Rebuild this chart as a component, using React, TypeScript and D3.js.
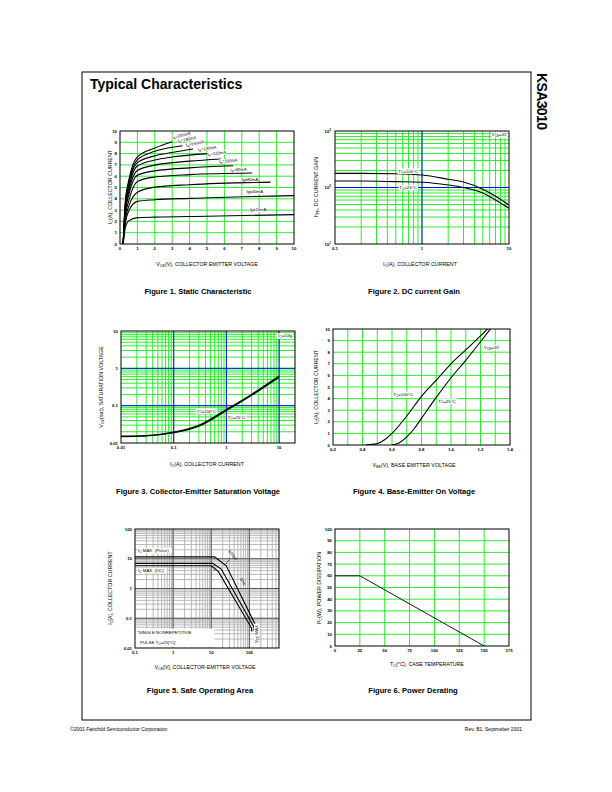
import React from 'react';
import * as d3 from 'd3';

const FONT = "'Liberation Sans', Arial, Helvetica, sans-serif";
const GREEN = '#14ec14';
const BLUE = '#0c0cff';
const GRAY_MINOR = '#b0b0b0';
const GRAY_MAJOR = '#5a5a5a';

// ---- Figure 1: static characteristic (VCE [V], IC [A]) per base current
const ibText = ['200', '180', '160', '140', '120', '100', '60', '80', '40', '20']; // as printed, top to bottom
const ib200 = [[0.18, 0], [0.3, 3.7], [0.5, 5.6], [1, 7.7], [2, 8.5], [3.0, 9.05]];
const ib180 = [[0.18, 0], [0.3, 3.5], [0.5, 5.4], [1, 7.45], [2, 8.2], [3.6, 8.7]];
const ib160 = [[0.18, 0], [0.3, 3.3], [0.5, 5.2], [1, 7.2], [2, 7.8], [3, 8.1], [4.2, 8.4]];
const ib140 = [[0.18, 0], [0.3, 3.1], [0.5, 4.9], [1, 6.9], [2, 7.43], [3, 7.7], [5.05, 8.0]];
const ib120 = [[0.18, 0], [0.3, 2.9], [0.5, 4.6], [1, 6.5], [2, 6.98], [4, 7.33], [5.8, 7.52]];
const ib100 = [[0.18, 0], [0.3, 2.7], [0.5, 4.3], [1, 6.08], [2, 6.47], [4, 6.74], [6.5, 6.92]];
const ib80 = [[0.18, 0], [0.3, 2.4], [0.5, 3.8], [1, 5.54], [2, 5.93], [4, 6.14], [7.6, 6.28]];
const ib60 = [[0.18, 0], [0.3, 2.1], [0.5, 3.3], [1, 4.58], [2, 5.03], [4, 5.25], [8.65, 5.48]];
const ib40 = [[0.18, 0], [0.3, 1.8], [0.5, 2.9], [1, 3.77], [2, 3.92], [4, 4.04], [10, 4.28]];
const ib20 = [[0.18, 0], [0.3, 1.4], [0.5, 2.05], [1, 2.33], [2, 2.38], [5, 2.46], [10, 2.6]];
const fig1Curves = [ib200, ib180, ib160, ib140, ib120, ib100, ib80, ib60, ib40, ib20];
// label anchor (VCE, IC, rotation)
const fig1LabelAt = [[3.03, 9.3, -14], [3.35, 8.98, -12], [3.8, 8.62, -11], [4.5, 8.2, -9], [5.05, 7.82, -7],
  [5.7, 7.16, -5], [6.35, 6.42, -3], [7.0, 5.55, 0], [7.28, 4.5, 0], [7.47, 2.9, 0]];
const linTicks10 = [0, 1, 2, 3, 4, 5, 6, 7, 8, 9, 10];

// ---- Figure 2: DC current gain
const hfeIc = [0.1, 0.2, 0.5, 1, 2, 3, 5, 7, 10];
const hfeT100 = [178, 178, 175, 166, 140, 125, 93, 70, 49];
const hfeT25 = [130, 130, 127, 124, 111, 100, 80, 60, 43];

// ---- Figure 3: saturation voltage
const satIc = [0.01, 0.03, 0.1, 0.3, 1, 3, 10];
const satT100 = [0.0152, 0.0158, 0.0195, 0.030, 0.079, 0.2, 0.62];
const satT25 = [0.0148, 0.0154, 0.0188, 0.028, 0.074, 0.19, 0.58];

// ---- Figure 4: base-emitter on voltage (VBE, IC)
const vbeT100 = [[0.42, 0], [0.5, 0.12], [0.55, 0.45], [0.6, 1.0], [0.7, 2.5], [0.8, 4.2], [0.9, 5.6], [1.0, 7.0], [1.1, 8.2], [1.2, 9.4], [1.25, 10.05]];
const vbeT25 = [[0.6, 0], [0.65, 0.2], [0.7, 0.7], [0.75, 1.4], [0.8, 2.3], [0.9, 4.1], [1.0, 5.8], [1.1, 7.3], [1.2, 8.9], [1.27, 10.05]];
const fig4XTicks = [0.2, 0.4, 0.6, 0.8, 1.0, 1.2, 1.4];

// ---- Figure 5: safe operating area (VCE, IC)
const soaPulse = [[0.1, 11.6], [12.2, 11.6], [24.8, 5.8], [150, 0.054], [150, 0.04]];
const soa1ms = [[0.1, 7.0], [11, 7.0], [18.3, 4.5], [133, 0.05], [133, 0.038]];
const soaDC = [[0.1, 5.85], [10, 5.85], [15.6, 3.6], [115, 0.046], [115, 0.036]];

// ---- Figure 6: power derating (TC, PC)
const derating = [[0, 60], [25, 60], [150, 0]];
const fig6XTicks = [0, 25, 50, 75, 100, 125, 150, 175];
const fig6YTicks = [0, 10, 20, 30, 40, 50, 60, 70, 80, 90, 100];

const logLines = (lo: number, hi: number) => {
  const out: number[] = [];
  for (let e = Math.floor(Math.log10(lo)); e <= Math.ceil(Math.log10(hi)); e++) {
    for (let k = 1; k < 10; k++) {
      const v = k * Math.pow(10, e);
      if (v > lo * 1.001 && v < hi * 0.999) out.push(v);
    }
  }
  return out;
};
const decadesIn = (lo: number, hi: number) => logLines(lo, hi).filter(v => Math.abs(Math.log10(v) - Math.round(Math.log10(v))) < 1e-9);
const zip = (xs: number[], ys: number[]) => xs.map((v, i) => [v, ys[i]]);

const Sub = ({ a, s, b }: { a: string; s: string; b?: string }) => (
  <>
    {a}
    <tspan dy={0.9} fontSize="0.72em">{s}</tspan>
    <tspan dy={-0.9}>{b ?? ''}</tspan>
  </>
);

type Tick = [number, React.ReactNode];

function Plot(props: {
  id: string; x: any; y: any; vLines: number[]; hLines: number[]; color: string;
  vMajor?: number[]; hMajor?: number[]; majorColor?: string;
  xTicks: Tick[]; yTicks: Tick[]; children?: React.ReactNode;
}) {
  const { id, x, y, color } = props;
  const [x0, x1] = x.range();
  const [yb, yt] = y.range();
  return (
    <g>
      <defs>
        <clipPath id={id}><rect x={x0} y={yt} width={x1 - x0} height={yb - yt} /></clipPath>
      </defs>
      <rect x={x0} y={yt} width={x1 - x0} height={yb - yt} fill="white" />
      {props.vLines.map(v => <line key={'v' + v} x1={x(v)} x2={x(v)} y1={yt} y2={yb} stroke={color} strokeWidth={0.9} />)}
      {props.hLines.map(v => <line key={'h' + v} x1={x0} x2={x1} y1={y(v)} y2={y(v)} stroke={color} strokeWidth={0.9} />)}
      {(props.vMajor || []).map(v => <line key={'V' + v} x1={x(v)} x2={x(v)} y1={yt} y2={yb} stroke={props.majorColor} strokeWidth={1} />)}
      {(props.hMajor || []).map(v => <line key={'H' + v} x1={x0} x2={x1} y1={y(v)} y2={y(v)} stroke={props.majorColor} strokeWidth={1} />)}
      <g clipPath={`url(#${id})`}>{props.children}</g>
      <rect x={x0} y={yt} width={x1 - x0} height={yb - yt} fill="none" stroke="black" strokeWidth={1} />
      {props.xTicks.map(([v, l], i) => (
        <text key={'xt' + i} x={x(v)} y={yb + 6} textAnchor="middle" fontSize={4.3} fontWeight="bold">{l}</text>
      ))}
      {props.yTicks.map(([v, l], i) => (
        <text key={'yt' + i} x={x0 - 3} y={y(v) + 1.5} textAnchor="end" fontSize={4.3} fontWeight="bold">{l}</text>
      ))}
    </g>
  );
}

const Boxed = ({ x, y, w, anchor = 'start', children }: { x: number; y: number; w: number; anchor?: string; children: React.ReactNode }) => {
  const left = anchor === 'end' ? x - w : x;
  return (
    <g>
      <rect x={left - 0.8} y={y - 4.2} width={w + 1.6} height={5.6} fill="white" />
      <text x={x} y={y} fontSize={4.4} textAnchor={anchor}>{children}</text>
    </g>
  );
};

const AxisTitles = ({ xt, xx, xy, yt, yx, yy }: any) => (
  <g fontSize={5.3}>
    <text x={xx} y={xy} textAnchor="middle">{xt}</text>
    <text transform={`translate(${yx},${yy}) rotate(-90)`} textAnchor="middle">{yt}</text>
  </g>
);

function Fig1() {
  const x = d3.scaleLinear().domain([0, 10]).range([120, 294]);
  const y = d3.scaleLinear().domain([0, 10]).range([244, 131]);
  const line = d3.line<number[]>().x(d => x(d[0])).y(d => y(d[1])).curve(d3.curveMonotoneX);
  return (
    <g>
      <Plot id="c1" x={x} y={y} color={GREEN} vLines={linTicks10.slice(1, 10)} hLines={linTicks10.slice(1, 10)}
        xTicks={linTicks10.map(v => [v, String(v)] as Tick)} yTicks={linTicks10.map(v => [v, String(v)] as Tick)}>
        {fig1Curves.map((c, i) => <path key={i} d={line(c) || ''} fill="none" stroke="black" strokeWidth={1.1} />)}
        {ibText.map((t, i) => {
          const [v, a, r] = fig1LabelAt[i];
          return (
            <g key={t} transform={`translate(${x(v)},${y(a)}) rotate(${r})`}>
              <rect x={-0.3} y={-3.6} width={t.length > 2 ? 18.5 : 16.5} height={4.4} fill="white" />
              <text fontSize={4.1}><Sub a="I" s="B" b={`=${t}mA`} /></text>
            </g>
          );
        })}
      </Plot>
      <AxisTitles xt={<Sub a="V" s="CE" b="(V), COLLECTOR EMITTER VOLTAGE" />} xx={207} xy={266}
        yt={<Sub a="I" s="C" b="(A), COLLECTOR CURRENT" />} yx={112} yy={187} />
    </g>
  );
}

function Fig2() {
  const x = d3.scaleLog().domain([0.1, 10]).range([335, 509]);
  const y = d3.scaleLog().domain([10, 1000]).range([244, 131]);
  const line = d3.line<number[]>().x(d => x(d[0])).y(d => y(d[1])).curve(d3.curveMonotoneX);
  return (
    <g>
      <Plot id="c2" x={x} y={y} color={GREEN} vLines={logLines(0.1, 10)} hLines={logLines(10, 1000)}
        vMajor={decadesIn(0.1, 10)} hMajor={decadesIn(10, 1000)} majorColor={BLUE}
        xTicks={[[0.1, '0.1'], [1, '1'], [10, '10']]} yTicks={[]}>
        <path d={line(zip(hfeIc, hfeT100)) || ''} fill="none" stroke="black" strokeWidth={1.1} />
        <path d={line(zip(hfeIc, hfeT25)) || ''} fill="none" stroke="black" strokeWidth={1.1} />
        <Boxed x={x(9.5)} y={y(800)} w={15} anchor="end"><Sub a="V" s="CE" b="=5V" /></Boxed>
        <Boxed x={x(0.534)} y={y(184)} w={20}><Sub a="T" s="C" b="=100°C" /></Boxed>
        <Boxed x={x(0.548)} y={y(94)} w={18}><Sub a="T" s="C" b="=25°C" /></Boxed>
      </Plot>
      {[[10, '1'], [100, '2'], [1000, '3']].map(([v, e]) => (
        <text key={e as string} x={331} y={y(v as number) + 1.5} textAnchor="end" fontSize={4.3} fontWeight="bold">
          10<tspan dy={-1.8} fontSize={3}>{e}</tspan>
        </text>
      ))}
      <AxisTitles xt={<Sub a="I" s="C" b="(A), COLLECTOR CURRENT" />} xx={420} xy={266}
        yt={<Sub a="h" s="FE" b=", DC CURRENT GAIN" />} yx={318} yy={187} />
    </g>
  );
}

function Fig3() {
  const x = d3.scaleLog().domain([0.01, 20]).range([121, 295]);
  const y = d3.scaleLog().domain([0.01, 10]).range([443, 331]);
  const line = d3.line<number[]>().x(d => x(d[0])).y(d => y(d[1])).curve(d3.curveMonotoneX);
  const dec = [0.01, 0.1, 1, 10];
  return (
    <g>
      <Plot id="c3" x={x} y={y} color={GREEN} vLines={logLines(0.01, 20)} hLines={logLines(0.01, 10)}
        vMajor={decadesIn(0.01, 20)} hMajor={decadesIn(0.01, 10)} majorColor={BLUE}
        xTicks={dec.map(v => [v, String(v)] as Tick)} yTicks={dec.map(v => [v, String(v)] as Tick)}>
        <path d={line(zip(satIc, satT25)) || ''} fill="none" stroke="black" strokeWidth={1.2} />
        <path d={line(zip(satIc, satT100)) || ''} fill="none" stroke="black" strokeWidth={1.2} />
        <Boxed x={x(17.7)} y={y(6.7)} w={15} anchor="end"><Sub a="I" s="C" b="=10I" /><tspan dy={0.9} fontSize="0.72em">B</tspan></Boxed>
        <Boxed x={x(0.273)} y={y(0.0656)} w={20}><Sub a="T" s="C" b="=100°C" /></Boxed>
        <Boxed x={x(1.06)} y={y(0.0453)} w={18}><Sub a="T" s="C" b="=25°C" /></Boxed>
      </Plot>
      <AxisTitles xt={<Sub a="I" s="C" b="(A), COLLECTOR CURRENT" />} xx={207} xy={466}
        yt={<Sub a="V" s="CE" b="(sat), SATURATION VOLTAGE" />} yx={103} yy={387} />
    </g>
  );
}

function Fig4() {
  const x = d3.scaleLinear().domain([0.2, 1.4]).range([333, 510]);
  const y = d3.scaleLinear().domain([0, 10]).range([445, 329]);
  const line = d3.line<number[]>().x(d => x(d[0])).y(d => y(d[1])).curve(d3.curveMonotoneX);
  const vl = d3.range(3, 14).map(i => i / 10);
  return (
    <g>
      <Plot id="c4" x={x} y={y} color={GREEN} vLines={vl} hLines={linTicks10.slice(1, 10)}
        xTicks={fig4XTicks.map(v => [v, v.toFixed(1)] as Tick)} yTicks={linTicks10.map(v => [v, String(v)] as Tick)}>
        <path d={line(vbeT100) || ''} fill="none" stroke="black" strokeWidth={1.1} />
        <path d={line(vbeT25) || ''} fill="none" stroke="black" strokeWidth={1.1} />
        <Boxed x={x(1.224)} y={y(8.28)} w={15}><Sub a="V" s="CE" b="=5V" /></Boxed>
        <Boxed x={x(0.609)} y={y(4.22)} w={20}><Sub a="T" s="C" b="=100°C" /></Boxed>
        <Boxed x={x(0.914)} y={y(3.66)} w={18}><Sub a="T" s="C" b="=25°C" /></Boxed>
      </Plot>
      <AxisTitles xt={<Sub a="V" s="BE" b="(V), BASE EMITTER VOLTAGE" />} xx={414} xy={467}
        yt={<Sub a="I" s="C" b="(A), COLLECTOR CURRENT" />} yx={318} yy={387} />
    </g>
  );
}

function Fig5() {
  const x = d3.scaleLog().domain([0.1, 600]).range([135, 279]);
  const y = d3.scaleLog().domain([0.01, 100]).range([648, 529]);
  const line = d3.line<number[]>().x(d => x(d[0])).y(d => y(d[1]));
  const vl = logLines(0.1, 600);
  const hl = logLines(0.01, 100);
  const lbl = (v: number, a: number, r: number, t: string) => (
    <text transform={`translate(${x(v)},${y(a)}) rotate(${r})`} fontSize={4.3} textAnchor="middle">{t}</text>
  );
  return (
    <g>
      <Plot id="c5" x={x} y={y} color={GRAY_MINOR} vLines={vl} hLines={hl}
        vMajor={decadesIn(0.1, 600)} hMajor={decadesIn(0.01, 100)} majorColor={GRAY_MAJOR}
        xTicks={[[0.1, '0.1'], [1, '1'], [10, '10'], [100, '100']]}
        yTicks={[[0.01, '0.01'], [0.1, '0.1'], [1, '1'], [10, '10'], [100, '100']]}>
        {[soaPulse, soa1ms, soaDC].map((c, i) => <path key={i} d={line(c) || ''} fill="none" stroke="black" strokeWidth={1.1} />)}
        <Boxed x={x(0.12)} y={y(16.9)} w={33}><Sub a="I" s="C" b=" MAX. (Pulse)" /></Boxed>
        <Boxed x={x(0.12)} y={y(3.6)} w={28}><Sub a="I" s="C" b=" MAX. (DC)" /></Boxed>
        <rect x={x(0.105)} y={y(0.045)} width={x(12) - x(0.105)} height={y(0.0105) - y(0.045)} fill="white" />
        <text x={x(0.113)} y={y(0.0307)} fontSize={4.4}>*SINGLE NONREPETITIVE</text>
        <text x={x(0.135)} y={y(0.0136)} fontSize={4.4}>PULSE <Sub a="T" s="C" b="=25[°C]" /></text>
        <g transform={`translate(${x(169)},${y(0.0146)}) rotate(-90)`}>
          <rect x={-0.5} y={-4} width={20} height={5.3} fill="white" />
          <text fontSize={4.4}><Sub a="V" s="CE" b=" MAX" /></text>
        </g>
        {lbl(34.5, 12.6, 50, '100µs')}
        {lbl(63, 1.65, 62, '1ms')}
        {lbl(11.1, 4.5, 60, 'DC')}
        <line x1={x(30)} y1={y(9.5)} x2={x(24)} y2={y(6.5)} stroke="black" strokeWidth={0.6} />
      </Plot>
      <AxisTitles xt={<Sub a="V" s="CE" b="[V], COLLECTOR-EMITTER VOLTAGE" />} xx={205} xy={669}
        yt={<Sub a="I" s="C" b="[A], COLLECTOR CURRENT" />} yx={112} yy={588} />
    </g>
  );
}

function Fig6() {
  const x = d3.scaleLinear().domain([0, 175]).range([335, 509]);
  const y = d3.scaleLinear().domain([0, 100]).range([646, 529]);
  const line = d3.line<number[]>().x(d => x(d[0])).y(d => y(d[1]));
  return (
    <g>
      <Plot id="c6" x={x} y={y} color={GREEN} vLines={fig6XTicks.slice(1, 7)} hLines={fig6YTicks.slice(1, 10)}
        xTicks={fig6XTicks.map(v => [v, String(v)] as Tick)} yTicks={fig6YTicks.map(v => [v, String(v)] as Tick)}>
        <path d={line(derating) || ''} fill="none" stroke="black" strokeWidth={0.9} />
      </Plot>
      <AxisTitles xt={<Sub a="T" s="C" b="(°C), CASE TEMPERATURE" />} xx={427} xy={666}
        yt={<Sub a="P" s="C" b="(W), POWER DISSIPATION" />} yx={321} yy={588} />
    </g>
  );
}

const captions: [string, number, number][] = [
  ['Figure 1. Static Characteristic', 198, 294],
  ['Figure 2. DC current Gain', 414, 294],
  ['Figure 3. Collector-Emitter Saturation Voltage', 198, 494],
  ['Figure 4. Base-Emitter On Voltage', 414, 494],
  ['Figure 5. Safe Operating Area', 200, 693],
  ['Figure 6. Power Derating', 413, 693],
];

export default function App() {
  return (
    <svg width={612} height={792} viewBox="0 0 612 792" fontFamily={FONT}
      style={{ position: 'absolute', left: 0, top: 0, background: 'white' }}>
      <rect x={0} y={0} width={612} height={792} fill="white" />
      <rect x={82} y={72} width={449} height={648} fill="none" stroke="black" strokeWidth={1} />
      <text x={90} y={89} fontSize={14} fontWeight="bold">Typical Characteristics</text>
      <text transform="translate(537,73) rotate(90)" fontSize={14} fontWeight="bold" textLength={57}>KSA3010</text>
      <Fig1 />
      <Fig2 />
      <Fig3 />
      <Fig4 />
      <Fig5 />
      <Fig6 />
      {captions.map(([t, cx, cy]) => (
        <text key={t} x={cx} y={cy} textAnchor="middle" fontSize={7.6} fontWeight="bold">{t}</text>
      ))}
      <text x={70} y={731} fontSize={5}>©2001 Fairchild Semiconductor Corporation</text>
      <text x={522} y={731} fontSize={5} textAnchor="end">Rev. B1, Septmeber 2001</text>
    </svg>
  );
}
